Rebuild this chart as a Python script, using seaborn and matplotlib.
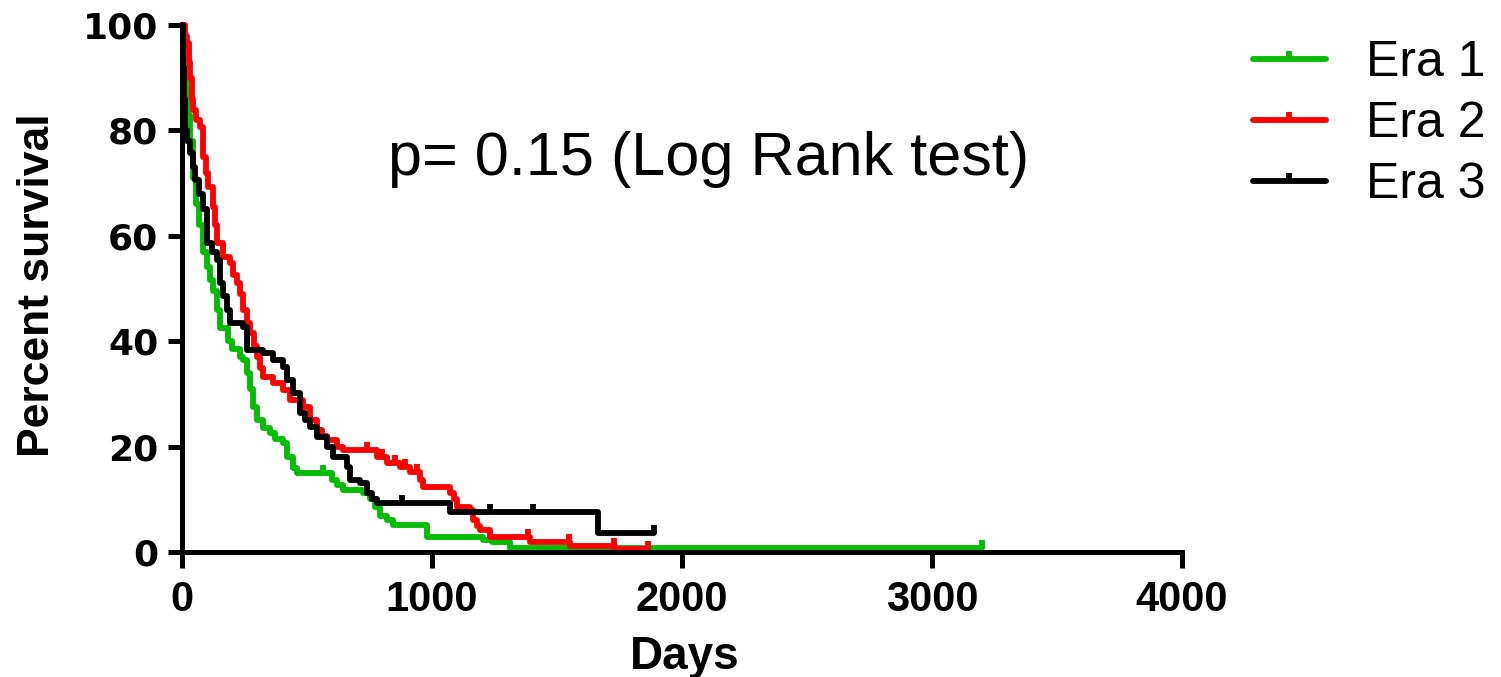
import numpy as np
import pandas as pd
import matplotlib
matplotlib.use("Agg")
import matplotlib.pyplot as plt
from matplotlib.path import Path
from matplotlib.lines import Line2D
import seaborn as sns

# ---------------- data ----------------
era1_days = [0, 8, 16, 24, 32, 44, 56, 68, 84, 100, 112, 124, 140, 152, 184, 200, 232, 244,
             260, 272, 284, 300, 324, 352, 372, 404, 420, 444, 460, 600, 620, 644, 724, 752,
             772, 792, 820, 844, 980, 1204, 1240, 1312, 3200]
era1_surv = [100, 93, 88, 83, 78, 71, 66, 62, 57, 54, 51.6, 49.5, 46, 42.5, 40, 38.5, 37, 36.4,
             34, 31, 27.5, 25, 23.5, 22.6, 21.5, 20.7, 18, 16, 15, 13.7, 12.8, 11.8, 11.2, 10,
             8.5, 6.8, 6, 5.1, 2.8, 2.2, 1.9, 0.8, 0.8]
era1_censor = [564, 3200]

era2_days = [0, 12, 20, 28, 32, 40, 44, 56, 72, 84, 96, 104, 124, 132, 140, 164, 192, 204,
             220, 232, 244, 258, 272, 286, 300, 312, 324, 364, 404, 432, 484, 512, 540, 560,
             580, 620, 644, 780, 820, 872, 912, 952, 964, 1072, 1088, 1100, 1152, 1164, 1180,
             1192, 1232, 1392, 1552, 1732, 1864]
era2_surv = [100, 98, 96.6, 93, 90, 86, 83.9, 82, 80.6, 75, 72, 69.3, 65.5, 62, 58.6, 56, 54.8,
             52.5, 51, 49, 46, 43.5, 41.5, 39, 37, 35, 33.2, 32, 30.7, 28.8, 27.5, 25, 23.1, 22,
             21.3, 19.9, 19.4, 18, 16.9, 16.1, 15.2, 13.7, 12.3, 11.2, 10, 8.5, 8, 6, 5, 4.2,
             2.8, 1.9, 1.2, 0.6, 0.6]
era2_censor = [740, 800, 850, 892, 940, 1384, 1548, 1728, 1864]

era3_days = [0, 4, 8, 12, 20, 32, 44, 52, 68, 84, 100, 120, 140, 152, 164, 180, 192, 244, 260,
             324, 364, 404, 420, 444, 472, 492, 512, 540, 580, 604, 660, 672, 712, 740, 760,
             780, 1072, 1664, 1888]
era3_surv = [100, 92, 86, 80, 78, 75.7, 73, 70.6, 68, 65, 58.6, 57, 55.4, 51, 48.5, 46, 43.5,
             42.7, 38.3, 37.7, 36.4, 35.1, 32.6, 30.2, 26.4, 25, 23.7, 21.8, 19.9, 18, 16.1,
             13.7, 13.1, 11.2, 10, 9.3, 7.6, 3.7, 3.7]
era3_censor = [880, 1232, 1404, 1888]

era_names = ["Era 1", "Era 2", "Era 3"]
era_colors = ["#00BB00", "#FF0000", "#000000"]
x_ticks = [0, 1000, 2000, 3000, 4000]
y_ticks = [0, 20, 40, 60, 80, 100]
annotation = "p= 0.15 (Log Rank test)"

# ---------------- build ----------------
days_list = [era1_days, era2_days, era3_days]
surv_list = [era1_surv, era2_surv, era3_surv]
censor_list = [era1_censor, era2_censor, era3_censor]

df = pd.concat([pd.DataFrame({"Days": d, "Survival": s, "Era": n})
                for d, s, n in zip(days_list, surv_list, era_names)], ignore_index=True)

sns.set_style("white")
plt.rcParams["font.family"] = ["Liberation Sans", "DejaVu Sans"]
for k in ["text.color", "axes.labelcolor", "xtick.color", "ytick.color"]:
    plt.rcParams[k] = "black"

fig = plt.figure(figsize=(15.01, 6.77), dpi=100)
ax = fig.add_axes([182/1501, 125/677, 1000/1501, 527/677])

LW = 4.2
sns.lineplot(data=df, x="Days", y="Survival", hue="Era", palette=era_colors,
             estimator=None, sort=False, drawstyle="steps-post", linewidth=LW,
             legend=False, ax=ax, clip_on=False)

censor_path = Path([(0, 0), (0, 1)], [Path.MOVETO, Path.LINETO])
for d, s, c, col in zip(days_list, surv_list, censor_list, era_colors):
    d = np.asarray(d, float); s = np.asarray(s, float)
    idx = np.searchsorted(d, c, side="right") - 1
    ax.plot(c, s[idx], ls="none", marker=censor_path, ms=12, mew=LW,
            color=col, clip_on=False)

ax.set_xlim(0, 4000)
ax.set_ylim(0, 100)
ax.set_xticks(x_ticks)
ax.set_yticks(y_ticks)
for sp in ["top", "right"]:
    ax.spines[sp].set_visible(False)
for sp in ["left", "bottom"]:
    ax.spines[sp].set_linewidth(3.6)
    ax.spines[sp].set_color("black")
ax.tick_params(axis="x", direction="out", length=11.5, width=3.6, pad=9,
               labelsize=30, bottom=True)
ax.tick_params(axis="y", direction="out", length=10, width=3.6, pad=7,
               labelsize=26, left=True)
for lab in ax.get_xticklabels():
    lab.set_fontweight("bold")
for lab in ax.get_yticklabels():
    lab.set_fontweight("bold")
    lab.set_family("DejaVu Sans")

ax.set_xlabel("Days", fontsize=33, fontweight="bold")
ax.set_ylabel("Percent survival", fontsize=32, fontweight="bold")
ax.xaxis.set_label_coords(0.503, -0.158)
ax.yaxis.set_label_coords(-0.124, 0.507)

ax.text(824, 74.4, annotation, fontsize=44, ha="left", va="center")

handles = [Line2D([], [], color=c, lw=LW, marker=censor_path, ms=12, mew=LW)
           for c in era_colors]
fig.legend(handles, era_names, loc="upper left", bbox_to_anchor=(1253/1501, (677-40)/677),
           frameon=False, fontsize=36, handlelength=1.45, handletextpad=0.8,
           labelspacing=0.3, borderpad=0, borderaxespad=0, numpoints=1)

fig.savefig("out.png", dpi=100, facecolor="white")
